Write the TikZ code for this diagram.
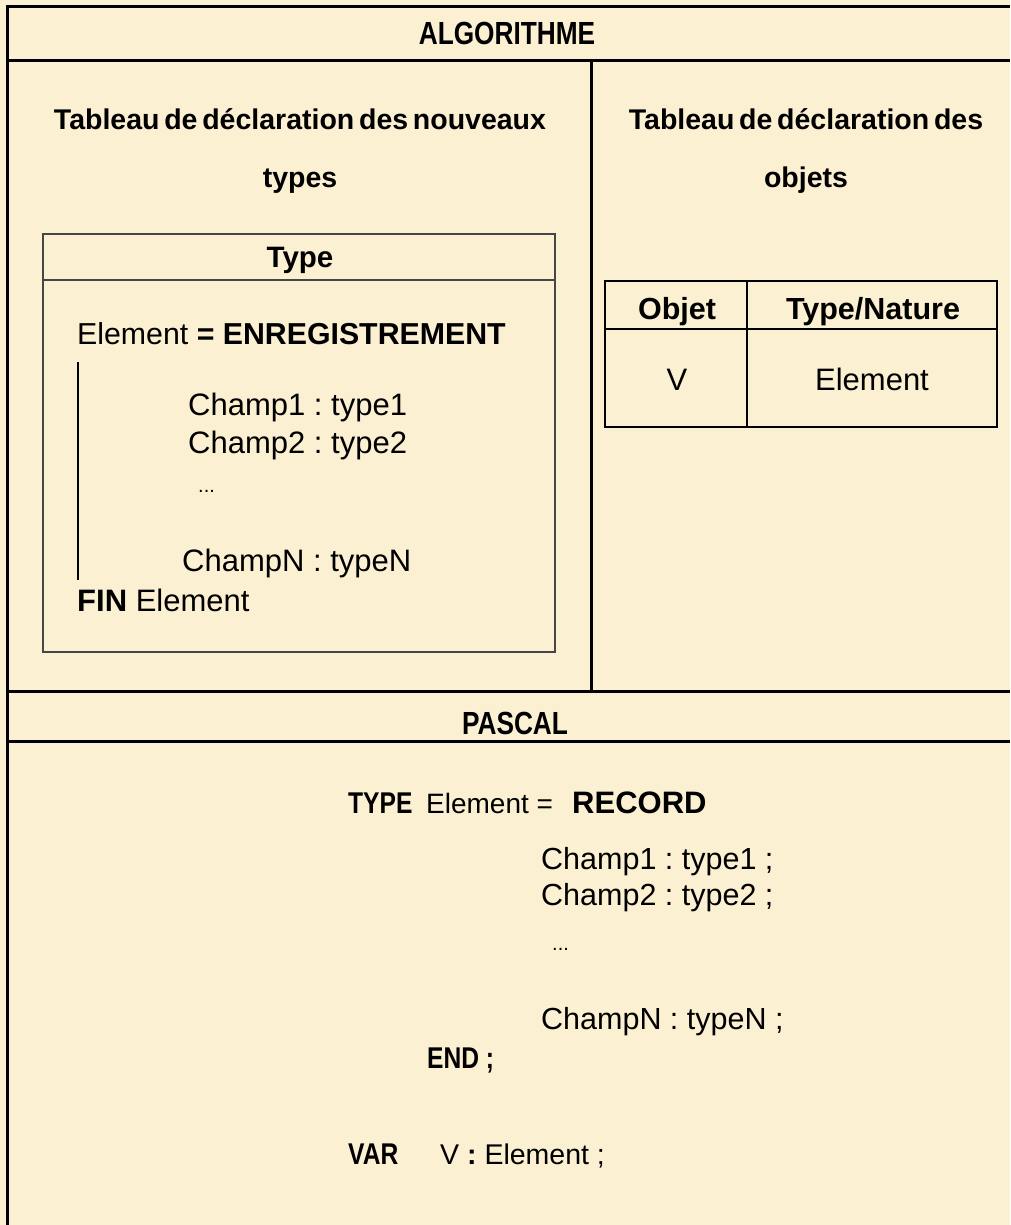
\documentclass[tikz,border=0pt]{standalone}
\usepackage{fontspec}
\setmainfont{Liberation Sans}
\newfontfamily\narrowfam[FakeStretch=0.82]{Liberation Sans}
\newfontfamily\headfam[WordSpace=0.6]{Liberation Sans}
\definecolor{paper}{RGB}{252,240,210}
\definecolor{boxgray}{RGB}{70,70,70}
\frenchspacing
\tikzset{
  frame/.style={line width=3pt, black},
  thinbox/.style={line width=1.5pt, boxgray},
  objbox/.style={line width=2.5pt, black},
  txt/.style={inner sep=0pt, anchor=base west, font=\fontsize{31}{37}\selectfont\frenchspacing},
  ptxt/.style={inner sep=0pt, anchor=base west, font=\fontsize{30.5}{37}\selectfont\frenchspacing},
  ctxt/.style={inner sep=0pt, anchor=base},
  bigtitle/.style={ctxt, font=\fontsize{32}{38}\selectfont\narrowfam\bfseries},
  heading/.style={ctxt, font=\fontsize{28.5}{34}\selectfont\headfam\bfseries},
  kw/.style={inner sep=0pt, anchor=base west, font=\fontsize{30}{37}\selectfont\narrowfam\bfseries},
  dots/.style={inner sep=0pt, anchor=base west, font=\fontsize{20}{24}\selectfont},
}
\begin{document}
\begin{tikzpicture}[x=1pt,y=-1pt]
\useasboundingbox (0,0) rectangle (1010,1225);
\fill[paper] (0,0) rectangle (1010,1225);
% main frame
\draw[frame] (1010,7) -- (7,7) -- (7,1225);
\draw[frame] (7,61) -- (1010,61);
\draw[frame] (7,691) -- (1010,691);
\draw[frame] (7,741) -- (1010,741);
\draw[frame] (591,61) -- (591,691);
% titles
\node[bigtitle] (alg) at (507,45) {ALGORITHME};
\node[bigtitle] (pas) at (515,734) {PASCAL};
% headings
\node[heading] (h1a) at (300,130) {Tableau de déclaration des nouveaux};
\node[heading] (h1b) at (300,187) {types};
\node[heading] (h2a) at (806,130) {Tableau de déclaration des};
\node[heading] (h2b) at (806,187) {objets};
% Type box
\draw[thinbox] (43,234) rectangle (555,652);
\draw[thinbox] (43,280) -- (555,280);
\node[ctxt, font=\fontsize{29.5}{35}\selectfont\bfseries] (typ) at (300,267) {Type};
\node[txt, font=\fontsize{30.3}{37}\selectfont] (el) at (77,344) {Element {\bfseries = ENREGISTREMENT}};
\coordinate (bart) at (78,362);
\coordinate (barb) at (78,580);
\draw[line width=1.5pt] (bart) -- (barb);
\node[txt] (c1) at (188,415) {Champ1 : type1};
\node[txt] (c2) at (188,453) {Champ2 : type2};
\node[dots] (cd) at (198,492) {...};
\node[txt] (cn) at (182,571) {ChampN : typeN};
\node[txt] (fin) at (77,611) {{\bfseries FIN} Element};
% Objet table
\draw[objbox] (605,281) rectangle (997,427);
\draw[objbox] (605,329) -- (997,329);
\draw[objbox] (747,281) -- (747,427);
\node[ctxt, font=\fontsize{30.5}{36}\selectfont\bfseries] (ob) at (677,319) {Objet};
\node[ctxt, font=\fontsize{30.5}{36}\selectfont\bfseries] (tn) at (873,319) {Type/Nature};
\node[ctxt, font=\fontsize{31}{37}\selectfont] (v) at (677,390) {V};
\node[ctxt, font=\fontsize{31}{37}\selectfont] (ve) at (872,390) {Element};
% Pascal
\node[kw] (ty) at (348,813) {TYPE};
\node[txt, font=\fontsize{28}{34}\selectfont] (pe) at (426,813) {Element =};
\node[txt, font=\fontsize{31}{37}\selectfont\bfseries] (rec) at (572,813) {RECORD};
\node[ptxt] (p1) at (541,869) {Champ1 : type1 ;};
\node[ptxt] (p2) at (541,905) {Champ2 : type2 ;};
\node[dots] (pd) at (552,950) {...};
\node[ptxt] (pn) at (541,1029) {ChampN : typeN ;};
\node[kw] (en) at (427,1068) {END ;};
\node[kw] (var) at (348,1164) {VAR};
\node[txt, font=\fontsize{28.5}{34}\selectfont] (vv) at (440,1164) {V {\bfseries :} Element ;};
\end{tikzpicture}
\end{document}
